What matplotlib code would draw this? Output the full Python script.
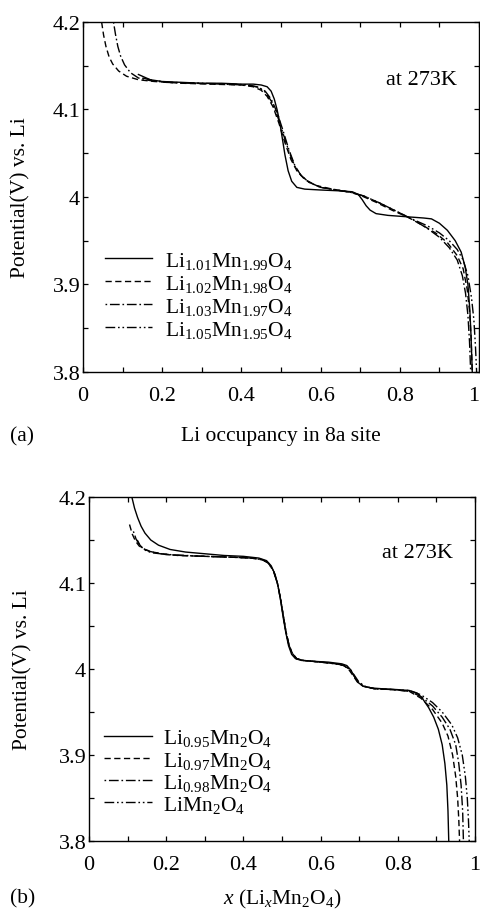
import matplotlib
matplotlib.use('Agg')
import matplotlib.pyplot as plt
from matplotlib.ticker import MultipleLocator, FuncFormatter

plt.rcParams['font.family'] = ['Liberation Serif', 'DejaVu Serif']
plt.rcParams['mathtext.fontset'] = 'custom'
plt.rcParams['mathtext.rm'] = 'Liberation Serif'
plt.rcParams['mathtext.it'] = 'Liberation Serif:italic'

# ---- data ----
# (a) Li(1+d)Mn(2-d)O4, x = Li occupancy in 8a site
a101_x = [0.14, 0.17, 0.20, 0.25, 0.30, 0.35, 0.40, 0.43, 0.45, 0.465, 0.475, 0.483, 0.49, 0.497,
          0.503, 0.51, 0.518, 0.527, 0.54, 0.56, 0.60, 0.65, 0.68, 0.695, 0.705, 0.715, 0.725, 0.74,
          0.77, 0.80, 0.83, 0.86, 0.88, 0.90, 0.92, 0.94, 0.955, 0.965, 0.972, 0.977, 0.98, 0.983]
a101_v = [4.140, 4.134, 4.132, 4.131, 4.130, 4.130, 4.129, 4.129, 4.128, 4.126, 4.121, 4.112, 4.100, 4.085,
          4.068, 4.048, 4.030, 4.018, 4.011, 4.009, 4.008, 4.007, 4.006, 4.003, 3.997, 3.990, 3.985, 3.981,
          3.979, 3.978, 3.977, 3.976, 3.975, 3.970, 3.962, 3.950, 3.937, 3.920, 3.900, 3.870, 3.840, 3.800]

a102_x = [0.047, 0.052, 0.058, 0.066, 0.075, 0.09, 0.11, 0.14, 0.18, 0.25, 0.32, 0.40, 0.43, 0.45, 0.465,
          0.48, 0.495, 0.51, 0.525, 0.54, 0.56, 0.59, 0.63, 0.67, 0.70, 0.74, 0.78, 0.82, 0.86, 0.89, 0.92,
          0.945, 0.96, 0.97, 0.976, 0.98, 0.983]
a102_v = [4.200, 4.185, 4.172, 4.160, 4.152, 4.144, 4.138, 4.134, 4.132, 4.130, 4.129, 4.128, 4.126, 4.122, 4.115,
          4.103, 4.084, 4.062, 4.043, 4.030, 4.020, 4.013, 4.009, 4.006, 4.002, 3.994, 3.985, 3.977, 3.967, 3.959, 3.948,
          3.933, 3.918, 3.895, 3.870, 3.840, 3.800]

a103_x = [0.077, 0.082, 0.088, 0.095, 0.105, 0.12, 0.14, 0.17, 0.21, 0.28, 0.35, 0.41, 0.44, 0.46, 0.475,
          0.49, 0.505, 0.52, 0.535, 0.55, 0.57, 0.60, 0.64, 0.68, 0.71, 0.75, 0.79, 0.83, 0.87, 0.90, 0.925,
          0.945, 0.958, 0.966, 0.972, 0.976, 0.979]
a103_v = [4.200, 4.186, 4.172, 4.161, 4.151, 4.142, 4.136, 4.133, 4.131, 4.130, 4.129, 4.128, 4.126, 4.121, 4.112,
          4.097, 4.076, 4.054, 4.036, 4.025, 4.017, 4.011, 4.008, 4.005, 4.001, 3.993, 3.984, 3.975, 3.964, 3.954, 3.942,
          3.928, 3.910, 3.890, 3.865, 3.835, 3.800]

a105_x = [0.15, 0.18, 0.22, 0.30, 0.38, 0.42, 0.445, 0.46, 0.475, 0.49, 0.505, 0.52, 0.535, 0.55, 0.57,
          0.60, 0.64, 0.68, 0.71, 0.75, 0.79, 0.83, 0.87, 0.90, 0.925, 0.945, 0.96, 0.972, 0.981, 0.987,
          0.991, 0.994]
a105_v = [4.136, 4.133, 4.131, 4.130, 4.129, 4.128, 4.125, 4.120, 4.110, 4.094, 4.073, 4.052, 4.035, 4.025, 4.017,
          4.011, 4.008, 4.005, 4.001, 3.993, 3.984, 3.975, 3.967, 3.959, 3.950, 3.940, 3.928, 3.910, 3.885, 3.860,
          3.830, 3.800]

# (b) LixMn2O4
b095_x = [0.111, 0.118, 0.126, 0.135, 0.145, 0.16, 0.18, 0.21, 0.25, 0.30, 0.35, 0.40, 0.44, 0.46, 0.472,
          0.482, 0.49, 0.497, 0.503, 0.51, 0.517, 0.525, 0.535, 0.55, 0.58, 0.62, 0.655, 0.668, 0.678, 0.688,
          0.698, 0.71, 0.73, 0.76, 0.80, 0.83, 0.85, 0.865, 0.88, 0.893, 0.905, 0.915, 0.922, 0.927, 0.93, 0.932]
b095_v = [4.200, 4.187, 4.176, 4.166, 4.158, 4.150, 4.144, 4.139, 4.136, 4.134, 4.132, 4.131, 4.129, 4.126, 4.120,
          4.110, 4.096, 4.078, 4.060, 4.042, 4.027, 4.017, 4.012, 4.010, 4.009, 4.008, 4.006, 4.004, 3.999, 3.991,
          3.984, 3.980, 3.978, 3.977, 3.976, 3.975, 3.972, 3.965, 3.955, 3.944, 3.930, 3.912, 3.890, 3.865, 3.835, 3.800]

b097_x = [0.105, 0.112, 0.12, 0.13, 0.145, 0.165, 0.19, 0.23, 0.30, 0.37, 0.42, 0.45, 0.465, 0.478, 0.488,
          0.496, 0.503, 0.51, 0.518, 0.527, 0.538, 0.555, 0.60, 0.64, 0.66, 0.672, 0.683, 0.695, 0.71, 0.74,
          0.79, 0.83, 0.86, 0.89, 0.915, 0.93, 0.942, 0.95, 0.955, 0.958, 0.96]
b097_v = [4.168, 4.157, 4.149, 4.143, 4.139, 4.136, 4.134, 4.132, 4.131, 4.130, 4.129, 4.127, 4.123, 4.114, 4.100,
          4.082, 4.063, 4.044, 4.028, 4.018, 4.012, 4.010, 4.008, 4.006, 4.004, 4.000, 3.993, 3.985, 3.980, 3.977,
          3.976, 3.974, 3.966, 3.953, 3.937, 3.922, 3.900, 3.875, 3.850, 3.825, 3.800]

b098_x = [0.115, 0.122, 0.13, 0.14, 0.155, 0.175, 0.20, 0.24, 0.30, 0.37, 0.42, 0.45, 0.465, 0.478, 0.488,
          0.496, 0.503, 0.51, 0.518, 0.527, 0.538, 0.555, 0.60, 0.64, 0.66, 0.674, 0.685, 0.697, 0.712, 0.74,
          0.79, 0.83, 0.86, 0.89, 0.915, 0.935, 0.95, 0.958, 0.964, 0.968, 0.97]
b098_v = [4.160, 4.151, 4.145, 4.140, 4.137, 4.135, 4.133, 4.132, 4.131, 4.130, 4.129, 4.127, 4.123, 4.114, 4.100,
          4.082, 4.063, 4.044, 4.028, 4.018, 4.012, 4.010, 4.008, 4.006, 4.004, 4.000, 3.993, 3.985, 3.980, 3.977,
          3.976, 3.974, 3.968, 3.957, 3.944, 3.930, 3.912, 3.890, 3.865, 3.835, 3.800]

b100_x = [0.125, 0.132, 0.14, 0.15, 0.165, 0.185, 0.21, 0.25, 0.30, 0.37, 0.42, 0.45, 0.465, 0.478, 0.488,
          0.496, 0.503, 0.51, 0.518, 0.527, 0.538, 0.555, 0.60, 0.64, 0.662, 0.676, 0.687, 0.699, 0.714, 0.74,
          0.79, 0.83, 0.86, 0.89, 0.915, 0.94, 0.955, 0.967, 0.975, 0.98, 0.983, 0.985]
b100_v = [4.150, 4.144, 4.140, 4.137, 4.135, 4.134, 4.133, 4.132, 4.131, 4.130, 4.129, 4.127, 4.123, 4.114, 4.100,
          4.082, 4.063, 4.044, 4.028, 4.018, 4.012, 4.010, 4.008, 4.006, 4.004, 4.000, 3.993, 3.985, 3.980, 3.977,
          3.976, 3.975, 3.970, 3.961, 3.950, 3.935, 3.920, 3.900, 3.875, 3.850, 3.825, 3.800]

a_labels = [r'Li$_{1.01}$Mn$_{1.99}$O$_4$', r'Li$_{1.02}$Mn$_{1.98}$O$_4$',
            r'Li$_{1.03}$Mn$_{1.97}$O$_4$', r'Li$_{1.05}$Mn$_{1.95}$O$_4$']
b_labels = [r'Li$_{0.95}$Mn$_2$O$_4$', r'Li$_{0.97}$Mn$_2$O$_4$',
            r'Li$_{0.98}$Mn$_2$O$_4$', r'LiMn$_2$O$_4$']

styles = ['-', (0, (4.5, 2.5)), (0, (1.2, 2, 7, 2)), (0, (7, 2, 1.2, 2, 1.2, 2))]

W, H = 481, 912
fig = plt.figure(figsize=(W / 100, H / 100), dpi=100)


def px_axes(l, t, r, b):
    return fig.add_axes([l / W, 1 - b / H, (r - l) / W, (b - t) / H])


def style_axes(ax, skip_last=False):
    ax.set_xlim(0, 1)
    ax.set_ylim(3.8, 4.2)
    ax.xaxis.set_major_locator(MultipleLocator(0.2))
    ax.xaxis.set_minor_locator(MultipleLocator(0.1))
    ax.yaxis.set_major_locator(MultipleLocator(0.1))
    ax.yaxis.set_minor_locator(MultipleLocator(0.05))
    fmt = FuncFormatter(lambda v, p: '%g' % round(v, 2))
    if skip_last:
        xfmt = FuncFormatter(lambda v, p: '' if v > 0.99 else '%g' % round(v, 2))
    else:
        xfmt = fmt
    ax.xaxis.set_major_formatter(xfmt)
    ax.yaxis.set_major_formatter(fmt)
    ax.tick_params(which='both', direction='in', top=True, right=True, length=3.6, width=0.9)
    ax.tick_params(axis='x', which='major', labelsize=16, pad=10)
    ax.tick_params(axis='y', which='major', labelsize=16, pad=2)
    for s in ax.spines.values():
        s.set_linewidth(1.0)


# panel (a)
ax1 = px_axes(83, 23, 479, 373)
series_a = [(a101_x, a101_v), (a102_x, a102_v), (a103_x, a103_v), (a105_x, a105_v)]
for (xs, vs), lab, ls in zip(series_a, a_labels, styles):
    ax1.plot(xs, vs, color='black', lw=1.0, linestyle=ls, label=lab)
style_axes(ax1, skip_last=True)
# "1" label nudged left so it stays inside the figure edge
ax1.annotate('1', xy=(1, 0), xycoords='axes fraction', xytext=(-3.5, -10),
             textcoords='offset points', ha='center', va='top', fontsize=16)
ax1.text(0.944, 0.837, 'at 273K', transform=ax1.transAxes, ha='right', va='center', fontsize=16)
ax1.legend(loc='upper left', bbox_to_anchor=(0.055, 0.35), frameon=False, fontsize=15.5,
           handlelength=2.2, handletextpad=0.6, labelspacing=0.1, borderpad=0, borderaxespad=0)
ax1.set_ylabel('Potential(V) vs. Li', fontsize=15.5)
ax1.yaxis.set_label_coords(-0.132, 0.5)

# panel (b)
ax2 = px_axes(89, 498, 475, 842)
series_b = [(b095_x, b095_v), (b097_x, b097_v), (b098_x, b098_v), (b100_x, b100_v)]
for (xs, vs), lab, ls in zip(series_b, b_labels, styles):
    ax2.plot(xs, vs, color='black', lw=1.0, linestyle=ls, label=lab)
style_axes(ax2)
ax2.text(0.942, 0.84, 'at 273K', transform=ax2.transAxes, ha='right', va='center', fontsize=16)
ax2.legend(loc='upper left', bbox_to_anchor=(0.04, 0.33), frameon=False, fontsize=15.5,
           handlelength=2.2, handletextpad=0.5, labelspacing=0.05, borderpad=0, borderaxespad=0)
ax2.set_ylabel('Potential(V) vs. Li', fontsize=15.5)
ax2.yaxis.set_label_coords(-0.147, 0.5)

# x labels and panel tags
fig.text(281 / W, 1 - 437 / H, 'Li occupancy in 8a site', ha='center', va='center', fontsize=15.5)
fig.text(10 / W, 1 - 437 / H, '(a)', ha='left', va='center', fontsize=15.5)
fig.text(282 / W, 1 - 899 / H, r'$x$ (Li$_x$Mn$_2$O$_4$)', ha='center', va='center', fontsize=15.5)
fig.text(10 / W, 1 - 899 / H, '(b)', ha='left', va='center', fontsize=15.5)

fig.savefig('out.png', dpi=100)
